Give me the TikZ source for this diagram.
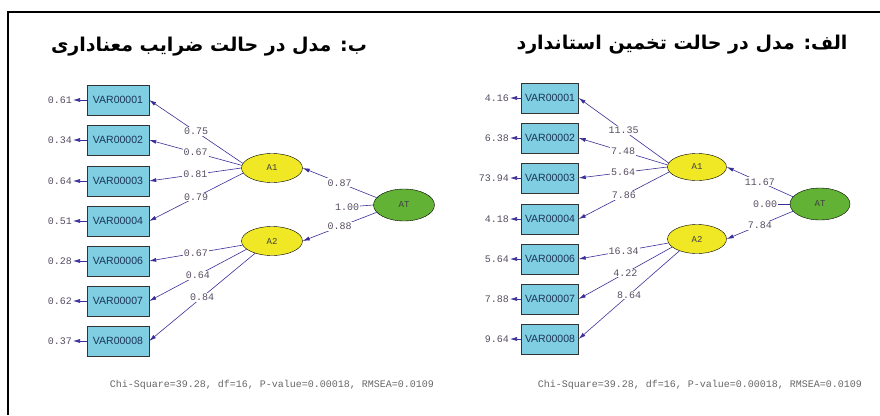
\documentclass[tikz,border=0pt]{standalone}
\usepackage{fontspec}
\usetikzlibrary{shapes.geometric,arrows.meta}
\TeXXeTstate=1
\newfontfamily\arabicfont[Script=Arabic]{DejaVu Sans}
\newfontfamily\boxfont{Liberation Sans}
\newfontfamily\numfont{Liberation Mono}
\definecolor{boxblue}{RGB}{128,206,226}
\definecolor{latyellow}{RGB}{240,232,36}
\definecolor{latgreen}{RGB}{98,178,54}
\definecolor{arrowblue}{RGB}{58,46,150}
\definecolor{numgray}{RGB}{88,78,98}
\definecolor{boxtext}{RGB}{28,52,84}

\begin{document}
\begin{tikzpicture}[x=1pt,y=-1pt,
    var/.style={draw=black!80,fill=boxblue,minimum height=30pt,inner sep=0pt,
      font=\boxfont\fontsize{10.5}{12}\selectfont,text=boxtext},
    lat/.style={ellipse,draw=black,minimum width=61pt,minimum height=29pt,inner sep=0pt,
      font=\numfont\fontsize{9}{11}\selectfont,text=black!75},
    arr/.style={draw=arrowblue,line width=0.6pt,-{Latex[length=7pt,width=4pt]}},
    lne/.style={draw=arrowblue,line width=0.6pt},
    num/.style={font=\numfont\fontsize{10}{12}\selectfont,text=numgray,inner sep=1pt,fill=white},
    err/.style={num,anchor=east},
    chi/.style={font=\numfont\fontsize{10}{12}\selectfont,text=black!60},
    title/.style={font=\arabicfont\bfseries\fontsize{19}{23}\selectfont}]
    \useasboundingbox (0,0) rectangle (880,415);

    % Frame
    \draw[line width=2pt] (880,12) -- (8,12) -- (8,415);

    % Panel b: significance
    \node[title] (btitle) at (209,47) {\beginR ب: مدل در حالت ضرایب معناداری\endR};

    \node[var,minimum width=62pt] (bv1) at (118,100) {VAR00001};
    \node[var,minimum width=62pt] (bv2) at (118,140) {VAR00002};
    \node[var,minimum width=62pt] (bv3) at (118,181) {VAR00003};
    \node[var,minimum width=62pt] (bv4) at (118,221) {VAR00004};
    \node[var,minimum width=62pt] (bv6) at (118,261) {VAR00006};
    \node[var,minimum width=62pt] (bv7) at (118,301) {VAR00007};
    \node[var,minimum width=62pt] (bv8) at (118,341) {VAR00008};

    \node[err] (be1) at (73,100) {0.61};
    \node[err] (be2) at (73,140) {0.34};
    \node[err] (be3) at (73,181) {0.64};
    \node[err] (be4) at (73,221) {0.51};
    \node[err] (be6) at (73,261) {0.28};
    \node[err] (be7) at (73,301) {0.62};
    \node[err] (be8) at (73,341) {0.37};
    \draw[arr] (bv1) -- (be1);
    \draw[arr] (bv2) -- (be2);
    \draw[arr] (bv3) -- (be3);
    \draw[arr] (bv4) -- (be4);
    \draw[arr] (bv6) -- (be6);
    \draw[arr] (bv7) -- (be7);
    \draw[arr] (bv8) -- (be8);

    \node[lat,fill=latyellow] (bA1) at (272,168) {A1};
    \node[lat,fill=latyellow] (bA2) at (272,241) {A2};
    \node[lat,fill=latgreen,minimum height=32pt] (bAT) at (404,205) {AT};

    \draw[arr] (bA1.171) -- node[num] {0.75} (bv1.east);
    \draw[arr] (bA1.175) -- node[num] {0.67} (bv2.east);
    \draw[arr] (bA1.180) -- node[num] {0.81} (bv3.east);
    \draw[arr] (bA1.190) -- node[num] {0.79} (bv4.east);
    \draw[arr] (bA2.188) -- node[num] {0.67} (bv6.east);
    \draw[arr] (bA2.198) -- node[num] {0.64} (bv7.east);
    \draw[arr] (bA2.216) -- node[num] {0.84} (bv8.east);

    \draw[arr] (bAT.165) -- node[num] {0.87} (bA1.east);
    \draw[arr] (bAT.195) -- node[num] {0.88} (bA2.east);
    \node[num] (bfix) at (347,207) {1.00};
    \draw[lne] (bfix) -- (bAT.west);

    \node[chi] (bchi) at (272,385) {Chi-Square=39.28, df=16, P-value=0.00018, RMSEA=0.0109};

    % Panel alef: standard estimates
    \node[title] (atitle) at (682,45) {\beginR الف: مدل در حالت تخمین استاندارد\endR};

    \node[var,minimum width=57pt] (av1) at (550,98) {VAR00001};
    \node[var,minimum width=57pt] (av2) at (550,138) {VAR00002};
    \node[var,minimum width=57pt] (av3) at (550,178) {VAR00003};
    \node[var,minimum width=57pt] (av4) at (550,219) {VAR00004};
    \node[var,minimum width=57pt] (av6) at (550,259) {VAR00006};
    \node[var,minimum width=57pt] (av7) at (550,299) {VAR00007};
    \node[var,minimum width=57pt] (av8) at (550,339) {VAR00008};

    \node[err] (ae1) at (510,98) {4.16};
    \node[err] (ae2) at (510,138) {6.38};
    \node[err] (ae3) at (510,178) {73.94};
    \node[err] (ae4) at (510,219) {4.18};
    \node[err] (ae6) at (510,259) {5.64};
    \node[err] (ae7) at (510,299) {7.88};
    \node[err] (ae8) at (510,339) {9.64};
    \draw[arr] (av1) -- (ae1);
    \draw[arr] (av2) -- (ae2);
    \draw[arr] (av3) -- (ae3);
    \draw[arr] (av4) -- (ae4);
    \draw[arr] (av6) -- (ae6);
    \draw[arr] (av7) -- (ae7);
    \draw[arr] (av8) -- (ae8);

    \node[lat,fill=latyellow,minimum width=59pt,minimum height=27pt] (aA1) at (697,167) {A1};
    \node[lat,fill=latyellow,minimum width=59pt] (aA2) at (697,239) {A2};
    \node[lat,fill=latgreen,minimum width=60pt,minimum height=32pt] (aAT) at (820,204) {AT};

    \draw[arr] (aA1.172) -- node[num] {11.35} (av1.east);
    \draw[arr] (aA1.176) -- node[num] {7.48} (av2.east);
    \draw[arr] (aA1.180) -- node[num] {5.64} (av3.east);
    \draw[arr] (aA1.190) -- node[num] {7.86} (av4.east);
    \draw[arr] (aA2.188) -- node[num] {16.34} (av6.east);
    \draw[arr] (aA2.198) -- node[num] {4.22} (av7.east);
    \draw[arr] (aA2.214) -- node[num] {8.64} (av8.east);

    \draw[arr] (aAT.165) -- node[num] {11.67} (aA1.east);
    \draw[arr] (aAT.195) -- node[num] {7.84} (aA2.east);
    \node[num] (afix) at (765,204) {0.00};
    \draw[lne] (afix) -- (aAT.west);

    \node[chi] (achi) at (700,385) {Chi-Square=39.28, df=16, P-value=0.00018, RMSEA=0.0109};
\end{tikzpicture}
\end{document}
